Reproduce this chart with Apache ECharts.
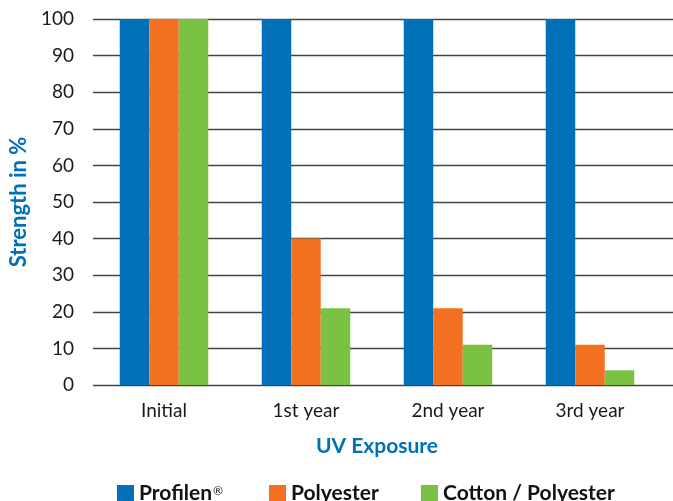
<!DOCTYPE html>
<html>
<head>
<meta charset="utf-8">
<style>
  html, body { margin: 0; padding: 0; background: #fff; }
  #chart { width: 673px; height: 501px; }
</style>
<script src="https://cdn.jsdelivr.net/npm/echarts@6/dist/echarts.min.js"></script>
</head>
<body>
<div id="chart"></div>
<script>
// data
var categories = ['Initial', '1st year', '2nd year', '3rd year'];
var profilen = [100, 100, 100, 100];
var polyester = [100, 40, 21, 11];
var cotton = [100, 21, 11, 4];
var seriesNames = ['Profilen®', 'Polyester', 'Cotton / Polyester'];
var colors = ['#0070b8', '#f37021', '#7bc143'];

var font = 'Lato';
var chart = echarts.init(document.getElementById('chart'));

// one legend per series so each sits where the original puts it
var legendLeft = [117, 269, 421];
var legends = seriesNames.map(function (name, i) {
    return {
        left: legendLeft[i], top: 483, padding: 0,
        itemWidth: 17, itemHeight: 17, icon: 'rect', itemGap: 10,
        data: [name],
        formatter: function (n) {
            return n.indexOf('®') >= 0 ? '{t|' + n.replace('®', '') + '}{s|®}' : '{t|' + n + '}';
        },
        textStyle: {
            rich: {
                t: {color: '#111', fontFamily: font, fontWeight: 'bold', fontSize: 21, lineHeight: 17},
                s: {color: '#111', fontFamily: font, fontSize: 12, lineHeight: 17, verticalAlign: 'top', padding: [0, 0, 6, 1]}
            }
        }
    };
});

var option = {
    animation: false,
    color: colors,
    // grid 0 only carries the gridlines + y labels, grid 1 carries the bars
    grid: [
        {left: 89, right: 0, top: 19, bottom: 116},
        {left: 93, width: 568, top: 19, bottom: 116}
    ],
    xAxis: [
        {gridIndex: 0, type: 'value', show: false, min: 0, max: 1},
        {
            gridIndex: 1, type: 'category', data: categories,
            axisLine: {show: false}, axisTick: {show: false},
            axisLabel: {color: '#1a1a1a', fontFamily: font, fontSize: 19, margin: 16},
            name: 'UV Exposure', nameLocation: 'middle', nameGap: 51,
            nameTextStyle: {color: colors[0], fontFamily: font, fontWeight: 'bold', fontSize: 21}
        }
    ],
    yAxis: [
        {
            gridIndex: 0, type: 'value', min: 0, max: 100, interval: 10,
            axisLine: {show: false}, axisTick: {show: false},
            axisLabel: {color: '#1a1a1a', fontFamily: font, fontSize: 19, margin: 19},
            splitLine: {lineStyle: {color: '#444', width: 1.3}},
            name: 'Strength in %', nameLocation: 'middle', nameGap: 63, nameRotate: 90,
            nameTextStyle: {color: colors[0], fontFamily: font, fontWeight: 'bold', fontSize: 22}
        },
        {gridIndex: 1, type: 'value', min: 0, max: 100, show: false}
    ],
    legend: legends,
    series: [
        {name: seriesNames[0], type: 'bar', xAxisIndex: 1, yAxisIndex: 1, data: profilen, barWidth: 29.5, barGap: '0%'},
        {name: seriesNames[1], type: 'bar', xAxisIndex: 1, yAxisIndex: 1, data: polyester, barWidth: 29.5, barGap: '0%'},
        {name: seriesNames[2], type: 'bar', xAxisIndex: 1, yAxisIndex: 1, data: cotton, barWidth: 29.5, barGap: '0%'}
    ]
};
chart.setOption(option);
</script>
</body>
</html>
